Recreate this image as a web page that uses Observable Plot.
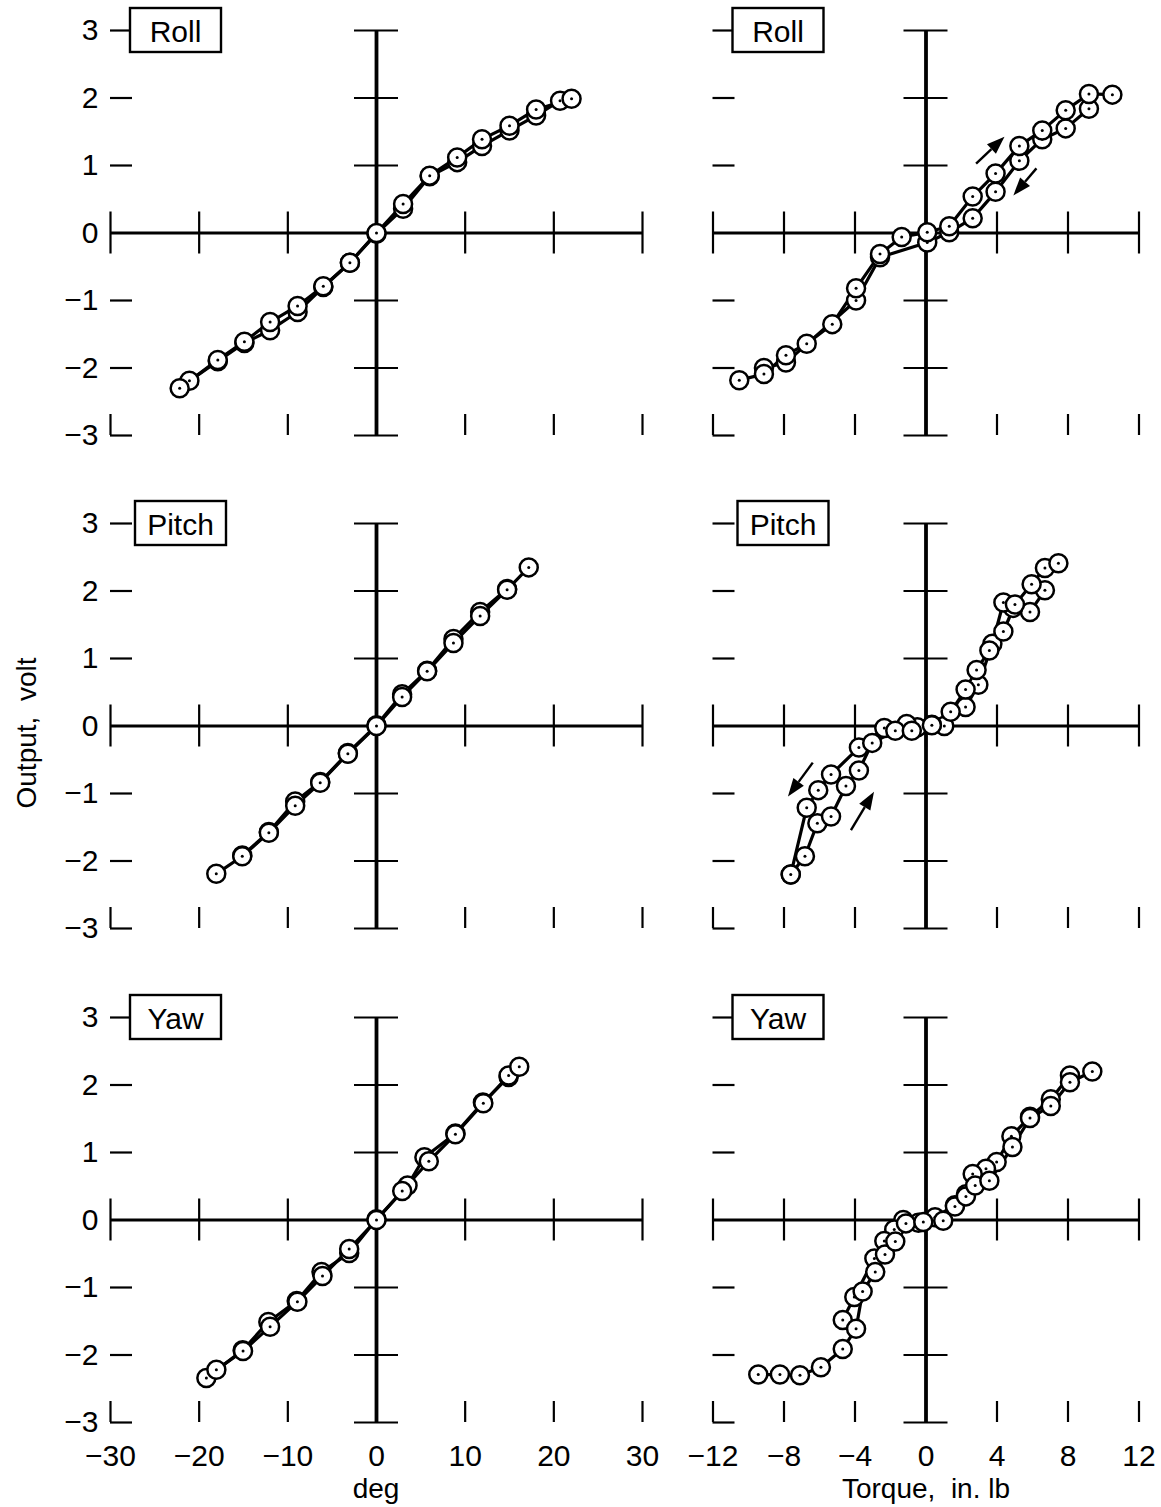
<!DOCTYPE html>
<html>
<head>
<meta charset="utf-8">
<script src="https://cdn.jsdelivr.net/npm/d3@7"></script>
<script src="https://cdn.jsdelivr.net/npm/@observablehq/plot@0.6"></script>
<style>
  body { margin: 0; background: #fff; }
  #fig { position: relative; width: 1161px; height: 1507px; background: #fff; font-family: "Liberation Sans", "DejaVu Sans", sans-serif; color: #000; }
  #fig svg { position: absolute; overflow: visible; background: transparent; }
  .title { position: absolute; white-space: pre; font-size: 28px; line-height: 1; }
</style>
</head>
<body>
<div id="fig"></div>
<script>
// ---- axes ----
const yTicks = [-3, -2, -1, 0, 1, 2, 3];
const yTickLabels = ["−3", "−2", "−1", "0", "1", "2", "3"];
const degTicks = [-30, -20, -10, 0, 10, 20, 30];
const degTickLabels = ["−30", "−20", "−10", "0", "10", "20", "30"];
const torqueTicks = [-12, -8, -4, 0, 4, 8, 12];
const torqueTickLabels = ["−12", "−8", "−4", "0", "4", "8", "12"];
const panelNames = ["Roll", "Pitch", "Yaw"];

// ---- Roll, angle (deg) ----
const rollDegUpX = [-22.2, -17.9, -14.9, -12.0, -8.9, -6.0, -3.0, 0, 3.0, 6.0, 9.1, 11.9, 15.0, 18.0, 22.0];
const rollDegUpY = [-2.30, -1.88, -1.61, -1.32, -1.08, -0.79, -0.44, 0, 0.43, 0.85, 1.12, 1.39, 1.59, 1.83, 1.99];
const rollDegDownX = [20.7, 18.0, 15.0, 11.9, 9.1, 6.0, 3.0, 0, -3.0, -6.0, -8.9, -12.0, -14.9, -17.9, -21.1];
const rollDegDownY = [1.96, 1.74, 1.52, 1.29, 1.05, 0.84, 0.36, -0.01, -0.44, -0.80, -1.17, -1.44, -1.63, -1.90, -2.19];

// ---- Roll, torque (in. lb) ----
const rollTorqueUpX = [-10.52, -9.13, -7.89, -6.72, -5.28, -3.94, -2.59, -1.37, 0.07, 1.31, 2.63, 3.92, 5.26, 6.55, 7.87, 9.18, 10.5];
const rollTorqueUpY = [-2.18, -2.09, -1.81, -1.64, -1.35, -0.82, -0.31, -0.06, 0.01, 0.10, 0.54, 0.88, 1.29, 1.52, 1.82, 2.06, 2.05];
const rollTorqueDownX = [9.18, 7.87, 6.55, 5.26, 3.92, 2.63, 1.31, 0.07, -2.59, -3.94, -7.89, -9.13];
const rollTorqueDownY = [1.84, 1.55, 1.39, 1.07, 0.61, 0.22, 0.01, -0.14, -0.36, -1.00, -1.92, -2.00];
const rollTorqueArrows = [[2.85, 1.02, 4.45, 1.42], [6.25, 0.95, 4.95, 0.55]];

// ---- Pitch, angle (deg) ----
const pitchDegUpX = [-18.07, -15.14, -12.14, -9.17, -6.35, -3.23, 0, 2.89, 5.71, 8.68, 11.69, 14.73, 17.17];
const pitchDegUpY = [-2.19, -1.93, -1.58, -1.18, -0.84, -0.41, 0, 0.43, 0.81, 1.23, 1.63, 2.02, 2.35];
const pitchDegDownX = [14.73, 11.69, 8.68, 5.71, 2.89, 0, -3.23, -6.35, -9.17, -12.14, -15.14];
const pitchDegDownY = [2.03, 1.69, 1.29, 0.82, 0.47, 0.01, -0.40, -0.83, -1.12, -1.57, -1.92];

// ---- Pitch, torque (in. lb) ----
const pitchTorqueUpX = [-7.62, -6.82, -6.12, -5.35, -4.51, -3.78, -3.03, -1.73, -0.80, 0.33, 1.39, 2.23, 2.85, 3.57, 4.36, 5.01, 5.95, 6.70, 7.46];
const pitchTorqueUpY = [-2.20, -1.93, -1.44, -1.34, -0.89, -0.66, -0.25, -0.07, -0.07, 0.01, 0.21, 0.54, 0.83, 1.12, 1.40, 1.80, 2.10, 2.34, 2.41];
const pitchTorqueDownX = [6.70, 5.86, 4.90, 4.36, 3.74, 2.95, 2.23, 1.03, 0.33, -0.49, -1.09, -2.35, -3.78, -5.35, -6.07, -6.72, -7.62];
const pitchTorqueDownY = [2.01, 1.69, 1.75, 1.83, 1.22, 0.61, 0.28, 0.00, 0.02, -0.02, 0.03, -0.03, -0.32, -0.72, -0.95, -1.21, -2.20];
const pitchTorqueArrows = [[-6.35, -0.55, -7.75, -1.05], [-4.20, -1.55, -2.90, -0.98]];

// ---- Yaw, angle (deg) ----
const yawDegUpX = [-18.06, -15.05, -12.0, -8.92, -6.09, -3.08, 0, 2.9, 5.9, 8.9, 12.05, 14.9, 16.1];
const yawDegUpY = [-2.22, -1.94, -1.58, -1.21, -0.83, -0.43, 0, 0.43, 0.87, 1.27, 1.73, 2.14, 2.27];
const yawDegDownX = [14.9, 12.0, 8.9, 5.4, 3.5, 0, -3.08, -6.2, -9.0, -12.2, -15.1, -19.19];
const yawDegDownY = [2.12, 1.74, 1.28, 0.93, 0.51, 0.01, -0.49, -0.77, -1.20, -1.51, -1.93, -2.34];

// ---- Yaw, torque (in. lb) ----
const yawTorqueUpX = [-9.45, -8.23, -7.10, -5.92, -4.69, -3.94, -3.57, -2.86, -2.31, -1.73, -1.13, -0.15, 0.97, 1.63, 2.25, 2.77, 3.57, 4.87, 5.86, 7.03, 8.11, 9.37];
const yawTorqueUpY = [-2.29, -2.29, -2.30, -2.18, -1.91, -1.61, -1.06, -0.77, -0.51, -0.32, -0.05, -0.03, -0.01, 0.20, 0.35, 0.51, 0.58, 1.08, 1.51, 1.69, 2.04, 2.20];
const yawTorqueDownX = [8.11, 7.03, 5.86, 4.81, 3.98, 3.38, 2.63, 2.25, 1.63, 0.51, -0.43, -1.28, -1.79, -2.35, -2.91, -4.04, -4.69];
const yawTorqueDownY = [2.14, 1.79, 1.53, 1.24, 0.86, 0.76, 0.68, 0.38, 0.22, 0.04, -0.04, 0.00, -0.14, -0.31, -0.57, -1.14, -1.48];

// ---- layout ----
const frameH = 405;
const columns = [
  {left: 0, width: 660, ml: 110, mr: 18, domain: [-30, 30], ticks: degTicks, labels: degTickLabels},
  {left: 660, width: 501, ml: 52.5, mr: 22.5, domain: [-12, 12], ticks: torqueTicks, labels: torqueTickLabels}
];
const rows = [
  {top: 0, mt: 30, mb: 25, boxOffset: 20},
  {top: 493, mt: 30, mb: 25, boxOffset: 25},
  {top: 987, mt: 30, mb: 86, boxOffset: 20}
];

const pts = (xs, ys) => xs.map((x, i) => ({x, y: ys[i]}));

// Name tag in the upper-left corner, hung on the y = 3 tick
function nameTag(text, xMin, offset) {
  return (index, scales) => {
    const x0 = scales.x(xMin) + offset, yc = scales.y(3);
    const g = d3.create("svg:g");
    g.append("rect").attr("x", x0).attr("y", yc - 22).attr("width", 91).attr("height", 44)
      .attr("fill", "white").attr("stroke", "black").attr("stroke-width", 2.4);
    g.append("text").attr("x", x0 + 45.5).attr("y", yc + 1).attr("text-anchor", "middle")
      .attr("dominant-baseline", "central").attr("font-size", 30).attr("fill", "black").text(text);
    return g.node();
  };
}

// Direction arrows (tail -> tip) with filled heads
function arrowMarks(list) {
  return (index, scales) => {
    const g = d3.create("svg:g");
    for (const [x1, y1, x2, y2] of list) {
      const ax = scales.x(x1), ay = scales.y(y1), bx = scales.x(x2), by = scales.y(y2);
      const a = Math.atan2(by - ay, bx - ax), hl = 18, hw = 6.5;
      const cx = bx - hl * Math.cos(a), cy = by - hl * Math.sin(a);
      g.append("line").attr("x1", ax).attr("y1", ay).attr("x2", cx).attr("y2", cy)
        .attr("stroke", "black").attr("stroke-width", 2.4);
      g.append("path").attr("d", `M${bx},${by}L${cx - hw * Math.sin(a)},${cy + hw * Math.cos(a)}L${cx + hw * Math.sin(a)},${cy - hw * Math.cos(a)}Z`)
        .attr("fill", "black");
    }
    return g.node();
  };
}

function panel(col, row, name, up, down, arrows) {
  const c = columns[col], r = rows[row];
  const frameW = c.width - c.ml - c.mr;
  const height = r.mt + frameH + r.mb;
  const tickData = yTicks.map((v, i) => ({y: v, text: yTickLabels[i]}));
  const xLabelData = c.ticks.map((v, i) => ({x: v, text: c.labels[i]}));
  const circle = {x: "x", y: "y", r: 9, fill: "white", stroke: "black", strokeWidth: 2.5};
  const centre = {x: "x", y: "y", r: 1.5, fill: "black"};
  const marks = [
    // crossing axes through the origin
    Plot.ruleY([0], {stroke: "black", strokeWidth: 3.2}),
    Plot.ruleX([0], {stroke: "black", strokeWidth: 3.8}),
    Plot.ruleY(yTicks, {stroke: "black", strokeWidth: 2.2, insetLeft: frameW / 2 - 22, insetRight: frameW / 2 - 22}),
    Plot.ruleX(c.ticks, {stroke: "black", strokeWidth: 2.2, insetTop: frameH / 2 - 21, insetBottom: frameH / 2 - 21}),
    // inward ticks along the left and bottom edges
    Plot.ruleY(yTicks.filter(v => v !== 0), {stroke: "black", strokeWidth: 2.2, insetRight: frameW - 22}),
    Plot.ruleX(c.ticks.filter(v => v !== 0), {stroke: "black", strokeWidth: 2.2, insetTop: frameH - 21}),
    // data
    Plot.line(down, {x: "x", y: "y", stroke: "black", strokeWidth: 3.2}),
    Plot.line(up, {x: "x", y: "y", stroke: "black", strokeWidth: 3.2}),
    Plot.dot(down, circle),
    Plot.dot(down, centre),
    Plot.dot(up, circle),
    Plot.dot(up, centre),
    nameTag(name, c.domain[0], r.boxOffset)
  ];
  if (arrows) marks.push(arrowMarks(arrows));
  if (col === 0) {
    marks.push(Plot.text(tickData, {x: () => c.domain[0], y: "y", text: "text", textAnchor: "end", dx: -12, fontSize: 30}));
  }
  if (row === 2) {
    marks.push(Plot.text(xLabelData, {x: "x", y: () => -3, text: "text", dy: 34, fontSize: 30}));
  }
  const svg = Plot.plot({
    width: c.width,
    height,
    marginLeft: c.ml,
    marginRight: c.mr,
    marginTop: r.mt,
    marginBottom: r.mb,
    x: {domain: c.domain, axis: null},
    y: {domain: [-3, 3], axis: null},
    style: {fontFamily: "Liberation Sans, DejaVu Sans, sans-serif", background: "transparent", overflow: "visible", color: "black"},
    marks
  });
  svg.style.left = c.left + "px";
  svg.style.top = r.top + "px";
  svg.style.maxWidth = "none";
  return svg;
}

const fig = document.getElementById("fig");
fig.append(
  panel(0, 0, panelNames[0], pts(rollDegUpX, rollDegUpY), pts(rollDegDownX, rollDegDownY)),
  panel(1, 0, panelNames[0], pts(rollTorqueUpX, rollTorqueUpY), pts(rollTorqueDownX, rollTorqueDownY), rollTorqueArrows),
  panel(0, 1, panelNames[1], pts(pitchDegUpX, pitchDegUpY), pts(pitchDegDownX, pitchDegDownY)),
  panel(1, 1, panelNames[1], pts(pitchTorqueUpX, pitchTorqueUpY), pts(pitchTorqueDownX, pitchTorqueDownY), pitchTorqueArrows),
  panel(0, 2, panelNames[2], pts(yawDegUpX, yawDegUpY), pts(yawDegDownX, yawDegDownY)),
  panel(1, 2, panelNames[2], pts(yawTorqueUpX, yawTorqueUpY), pts(yawTorqueDownX, yawTorqueDownY))
);

// axis titles
const yTitle = document.createElement("div");
yTitle.className = "title";
yTitle.textContent = "Output,  volt";
yTitle.style.cssText += "left:27px;top:733px;font-size:28px;transform:translate(-50%,-50%) rotate(-90deg);";
const xTitleDeg = document.createElement("div");
xTitleDeg.className = "title";
xTitleDeg.textContent = "deg";
xTitleDeg.style.cssText += "left:376px;top:1489px;transform:translate(-50%,-50%);";
const xTitleTorque = document.createElement("div");
xTitleTorque.className = "title";
xTitleTorque.textContent = "Torque,  in. lb";
xTitleTorque.style.cssText += "left:926px;top:1489px;transform:translate(-50%,-50%);";
fig.append(yTitle, xTitleDeg, xTitleTorque);
</script>
</body>
</html>
